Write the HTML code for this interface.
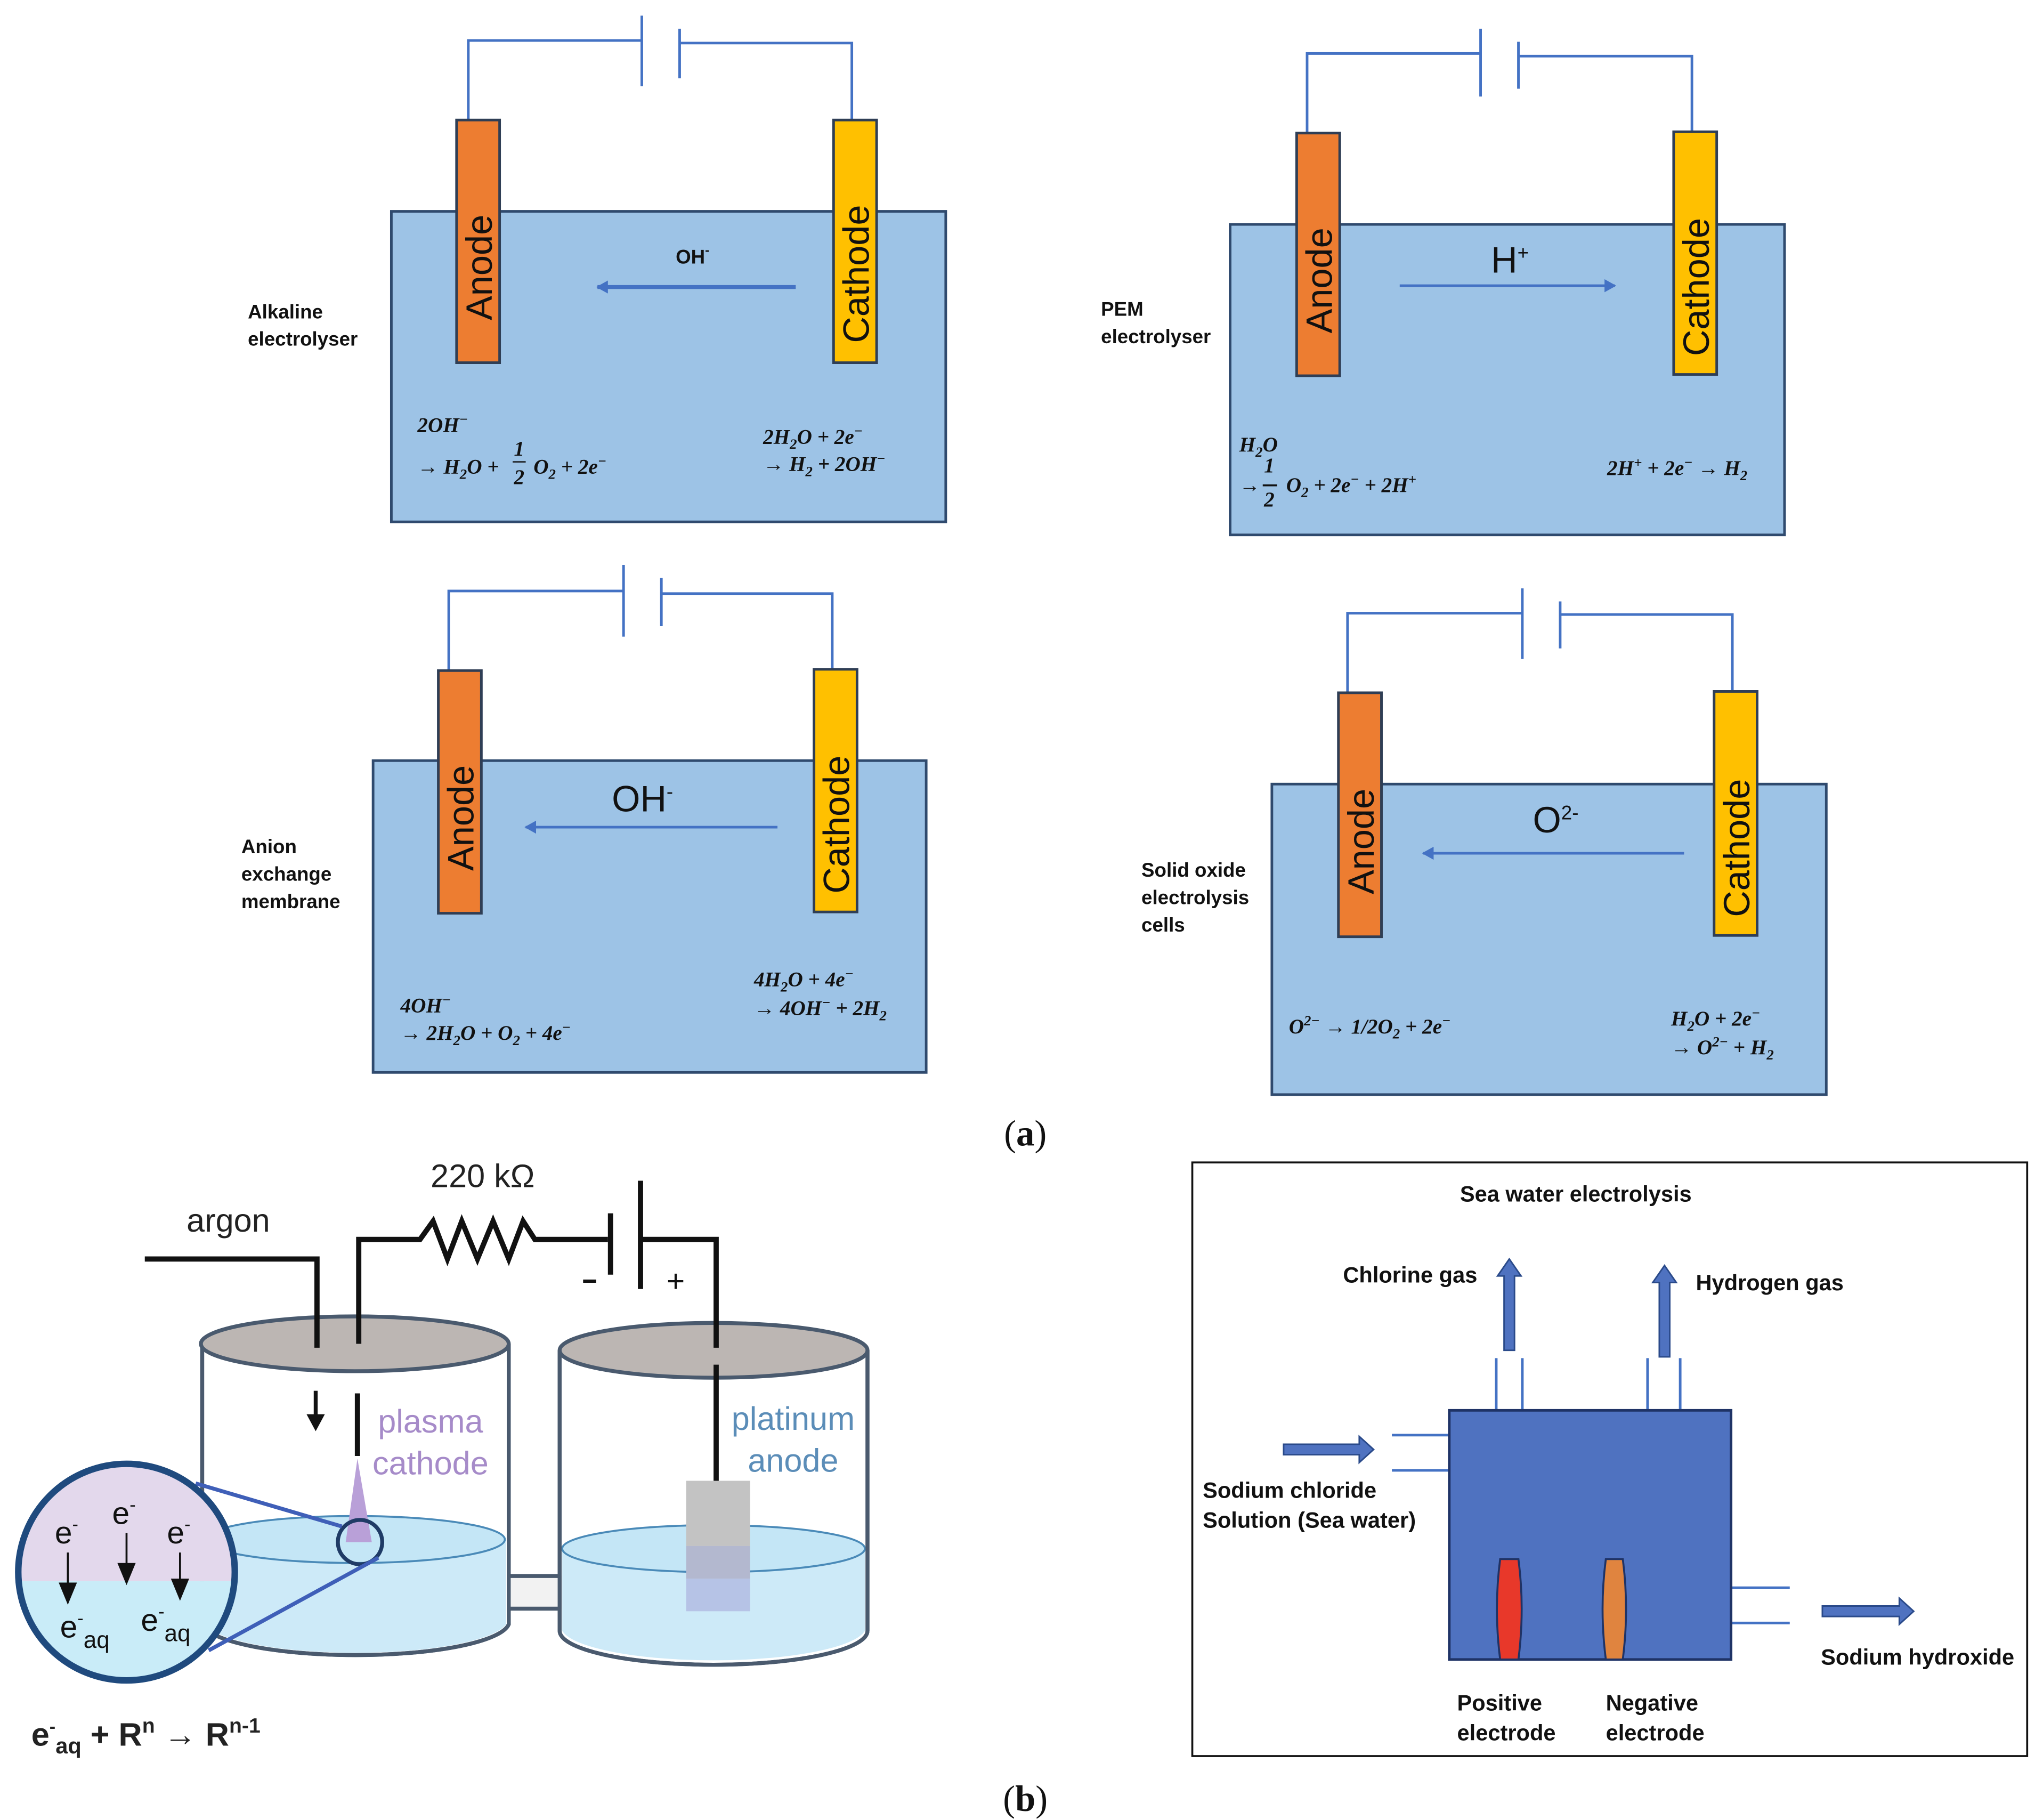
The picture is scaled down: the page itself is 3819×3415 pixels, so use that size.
<!DOCTYPE html>
<html><head><meta charset="utf-8"><style>
html,body{margin:0;padding:0;background:#fff}
svg{display:block}
.lab{font-family:"Liberation Sans",sans-serif;font-weight:bold;font-size:15px;fill:#111}
.el{font-family:"Liberation Sans",sans-serif;font-size:28px;fill:#111}
.eq{font-family:"Liberation Serif",serif;font-style:italic;font-weight:bold;font-size:16px;fill:#111}
.w{stroke:#4472C4;stroke-width:2;fill:none}
.tank{fill:#9DC3E6;stroke:#2F4A6E;stroke-width:2}
.an{fill:#ED7D31;stroke:#2F3E55;stroke-width:2}
.ca{fill:#FFC000;stroke:#2F3E55;stroke-width:2}
.sw{font-family:"Liberation Sans",sans-serif;font-weight:bold;font-size:17px;fill:#111}
</style></head><body>
<svg width="3819" height="3415" viewBox="0 0 1560 1395" preserveAspectRatio="none" xmlns="http://www.w3.org/2000/svg">
<defs>
<marker id="ah" markerWidth="10" markerHeight="10" refX="8" refY="5" orient="auto" markerUnits="userSpaceOnUse"><path d="M0,0 L9,5 L0,10 Z" fill="#4472C4"/></marker>
</defs>

<!-- Panel 1 Alkaline -->
<rect class="tank" x="300" y="162" width="425" height="238"/>
<path class="w" d="M359,92 V31 H492 M492,12 V66 M521,22 V60 M521,33 H653 V92"/>
<rect class="an" x="350" y="92" width="33" height="186"/>
<rect class="ca" x="639" y="92" width="33" height="186"/>
<text class="el" transform="translate(377,205) rotate(-90)" text-anchor="middle">Anode</text>
<text class="el" transform="translate(666,210) rotate(-90)" text-anchor="middle">Cathode</text>
<line x1="610" y1="220" x2="458" y2="220" stroke="#4472C4" stroke-width="3" marker-end="url(#ah)"/>
<text class="lab" x="518" y="202" font-size="17">OH<tspan dy="-7" font-size="10">-</tspan></text>
<text class="lab" x="190" y="244">Alkaline</text>
<text class="lab" x="190" y="265">electrolyser</text>
<text class="eq" x="320" y="331" font-weight="normal">2OH<tspan dy="-6" font-size="11">−</tspan></text>
<text class="eq" x="320" y="363" font-weight="normal">→ H<tspan dy="4" font-size="11">2</tspan><tspan dy="-4">O + </tspan></text>
<text class="eq" x="394" y="349" font-weight="normal" font-size="14">1</text>
<line x1="393" y1="354" x2="403" y2="354" stroke="#111" stroke-width="1"/>
<text class="eq" x="394" y="371" font-weight="normal" font-size="14">2</text>
<text class="eq" x="409" y="363" font-weight="normal">O<tspan dy="4" font-size="11">2</tspan><tspan dy="-4"> + 2e</tspan><tspan dy="-6" font-size="11">−</tspan></text>
<text class="eq" x="585" y="340">2H<tspan dy="4" font-size="11">2</tspan><tspan dy="-4">O + 2e</tspan><tspan dy="-6" font-size="11">−</tspan></text>
<text class="eq" x="585" y="361">→ H<tspan dy="4" font-size="11">2</tspan><tspan dy="-4"> + 2OH</tspan><tspan dy="-6" font-size="11">−</tspan></text>

<!-- Panel 2 PEM -->
<rect class="tank" x="943" y="172" width="425" height="238"/>
<path class="w" d="M1002,102 V41 H1135 M1135,22 V74 M1164,32 V68 M1164,43 H1297 V101"/>
<rect class="an" x="994" y="102" width="33" height="186"/>
<rect class="ca" x="1283" y="101" width="33" height="186"/>
<text class="el" transform="translate(1021,215) rotate(-90)" text-anchor="middle">Anode</text>
<text class="el" transform="translate(1310,220) rotate(-90)" text-anchor="middle">Cathode</text>
<line x1="1073" y1="219" x2="1238" y2="219" stroke="#4472C4" stroke-width="2" marker-end="url(#ah)"/>
<text class="el" x="1143" y="209" font-size="25">H<tspan dy="-10" font-size="15">+</tspan></text>
<text class="lab" x="844" y="242">PEM</text>
<text class="lab" x="844" y="263">electrolyser</text>
<text class="eq" x="950" y="346">H<tspan dy="4" font-size="11">2</tspan><tspan dy="-4">O</tspan></text>
<text class="eq" x="950" y="377">→</text>
<text class="eq" x="969" y="362" font-size="14">1</text>
<line x1="968" y1="372" x2="979" y2="372" stroke="#111" stroke-width="1.5"/>
<text class="eq" x="969" y="388" font-size="14">2</text>
<text class="eq" x="986" y="377">O<tspan dy="4" font-size="11">2</tspan><tspan dy="-4"> + 2e</tspan><tspan dy="-6" font-size="11">−</tspan><tspan dy="6"> + 2H</tspan><tspan dy="-6" font-size="11">+</tspan></text>
<text class="eq" x="1232" y="364">2H<tspan dy="-6" font-size="11">+</tspan><tspan dy="6"> + 2e</tspan><tspan dy="-6" font-size="11">−</tspan><tspan dy="6"> → H</tspan><tspan dy="4" font-size="11">2</tspan></text>

<!-- Panel 3 AEM -->
<rect class="tank" x="286" y="583" width="424" height="239"/>
<path class="w" d="M344,514 V453 H478 M478,433 V488 M507,443 V480 M507,455 H638 V513"/>
<rect class="an" x="336" y="514" width="33" height="186"/>
<rect class="ca" x="624" y="513" width="33" height="186"/>
<text class="el" transform="translate(363,627) rotate(-90)" text-anchor="middle">Anode</text>
<text class="el" transform="translate(651,632) rotate(-90)" text-anchor="middle">Cathode</text>
<line x1="596" y1="634" x2="403" y2="634" stroke="#4472C4" stroke-width="2" marker-end="url(#ah)"/>
<text class="el" x="469" y="622" font-size="25">OH<tspan dy="-10" font-size="15">-</tspan></text>
<text class="lab" x="185" y="654">Anion</text>
<text class="lab" x="185" y="675">exchange</text>
<text class="lab" x="185" y="696">membrane</text>
<text class="eq" x="307" y="776">4OH<tspan dy="-6" font-size="11">−</tspan></text>
<text class="eq" x="307" y="797">→ 2H<tspan dy="4" font-size="11">2</tspan><tspan dy="-4">O + O</tspan><tspan dy="4" font-size="11">2</tspan><tspan dy="-4"> + 4e</tspan><tspan dy="-6" font-size="11">−</tspan></text>
<text class="eq" x="578" y="756">4H<tspan dy="4" font-size="11">2</tspan><tspan dy="-4">O + 4e</tspan><tspan dy="-6" font-size="11">−</tspan></text>
<text class="eq" x="578" y="778">→ 4OH<tspan dy="-6" font-size="11">−</tspan><tspan dy="6"> + 2H</tspan><tspan dy="4" font-size="11">2</tspan></text>

<!-- Panel 4 SOEC -->
<rect class="tank" x="975" y="601" width="425" height="238"/>
<path class="w" d="M1033,531 V470 H1167 M1167,451 V505 M1196,461 V497 M1196,471 H1328 V530"/>
<rect class="an" x="1026" y="531" width="33" height="187"/>
<rect class="ca" x="1314" y="530" width="33" height="187"/>
<text class="el" transform="translate(1053,645) rotate(-90)" text-anchor="middle">Anode</text>
<text class="el" transform="translate(1341,650) rotate(-90)" text-anchor="middle">Cathode</text>
<line x1="1291" y1="654" x2="1091" y2="654" stroke="#4472C4" stroke-width="2" marker-end="url(#ah)"/>
<text class="el" x="1175" y="638" font-size="25">O<tspan dy="-10" font-size="15">2-</tspan></text>
<text class="lab" x="875" y="672">Solid oxide</text>
<text class="lab" x="875" y="693">electrolysis</text>
<text class="lab" x="875" y="714">cells</text>
<text class="eq" x="988" y="792">O<tspan dy="-6" font-size="11">2−</tspan><tspan dy="6"> → 1/2O</tspan><tspan dy="4" font-size="11">2</tspan><tspan dy="-4"> + 2e</tspan><tspan dy="-6" font-size="11">−</tspan></text>
<text class="eq" x="1281" y="786">H<tspan dy="4" font-size="11">2</tspan><tspan dy="-4">O + 2e</tspan><tspan dy="-6" font-size="11">−</tspan></text>
<text class="eq" x="1281" y="808">→ O<tspan dy="-6" font-size="11">2−</tspan><tspan dy="6"> + H</tspan><tspan dy="4" font-size="11">2</tspan></text>

<text x="786" y="878" text-anchor="middle" font-family="Liberation Serif,serif" font-size="28" fill="#111">(<tspan font-weight="bold">a</tspan>)</text>
<text x="786" y="1388" text-anchor="middle" font-family="Liberation Serif,serif" font-size="28" fill="#111">(<tspan font-weight="bold">b</tspan>)</text>

<!-- Panel b-left -->
<g stroke-linejoin="round">
<!-- left cylinder -->
<path d="M155,1030 V1245 A118,26 0 0 0 390,1245 V1030" fill="#fff" stroke="#4a5a6e" stroke-width="3"/>
<path d="M157,1180 A115,18 0 0 1 388,1180 V1245 A117,26 0 0 1 157,1245 Z" fill="#cdeaf8"/>
<ellipse cx="272" cy="1180" rx="115" ry="18" fill="#c4e6f6" stroke="#4a8ab8" stroke-width="1.5"/>
<path d="M155,1030 V1245 A118,26 0 0 0 390,1245 V1030" fill="none" stroke="#4a5a6e" stroke-width="3"/>
<ellipse cx="272" cy="1030" rx="118" ry="21" fill="#bcb6b3" stroke="#4a5a6e" stroke-width="3"/>
<!-- right cylinder -->
<path d="M429,1035 V1250 A118,26 0 0 0 665,1250 V1035" fill="#fff" stroke="#4a5a6e" stroke-width="3"/>
<path d="M431,1187 A115,18 0 0 1 663,1187 V1250 A117,26 0 0 1 431,1250 Z" fill="#cdeaf8"/>
<ellipse cx="547" cy="1187" rx="116" ry="18" fill="#c4e6f6" stroke="#4a8ab8" stroke-width="1.5"/>
<path d="M429,1035 V1250 A118,26 0 0 0 665,1250 V1035" fill="none" stroke="#4a5a6e" stroke-width="3"/>
<ellipse cx="547" cy="1035" rx="118" ry="21" fill="#bcb6b3" stroke="#4a5a6e" stroke-width="3"/>
<!-- connector -->
<rect x="390" y="1208" width="39" height="25" fill="#f2f2f2" stroke="#4a5a6e" stroke-width="3"/>
<!-- platinum anode -->
<rect x="526" y="1135" width="49" height="50" fill="#c3c3c3"/>
<rect x="526" y="1185" width="49" height="25" fill="#b3b8cf"/>
<rect x="526" y="1210" width="49" height="25" fill="#b6c3e6"/>
</g>
<path d="M111,965 H243 V1033" stroke="#111" stroke-width="4" fill="none"/>
<path d="M275,1030 V950 H322 L332,936 L343,965 L354,936 L366,965 L378,936 L390,965 L401,936 L410,950 H466" stroke="#111" stroke-width="4" fill="none"/>
<line x1="468" y1="930" x2="468" y2="977" stroke="#111" stroke-width="4"/>
<line x1="491" y1="905" x2="491" y2="988" stroke="#111" stroke-width="4"/>
<path d="M491,950 H549 V1033" stroke="#111" stroke-width="4" fill="none"/>
<line x1="549" y1="1046" x2="549" y2="1135" stroke="#111" stroke-width="4"/>
<line x1="447" y1="982" x2="457" y2="982" stroke="#111" stroke-width="2.5"/>
<text x="518" y="990" text-anchor="middle" font-family="Liberation Sans,sans-serif" font-size="24" fill="#111">+</text>
<text x="370" y="910" text-anchor="middle" font-family="Liberation Sans,sans-serif" font-size="25" fill="#222">220 kΩ</text>
<text x="175" y="944" text-anchor="middle" font-family="Liberation Sans,sans-serif" font-size="25" fill="#222">argon</text>
<line x1="242" y1="1066" x2="242" y2="1086" stroke="#111" stroke-width="3"/>
<path d="M235,1084 L249,1084 L242,1097 Z" fill="#111"/>
<line x1="274" y1="1068" x2="274" y2="1116" stroke="#111" stroke-width="4"/>
<path d="M274,1118 L265,1182 L285,1182 Z" fill="#b9a0d8"/>
<text x="330" y="1098" text-anchor="middle" font-family="Liberation Sans,sans-serif" font-size="25" fill="#a68bc9">plasma</text>
<text x="330" y="1130" text-anchor="middle" font-family="Liberation Sans,sans-serif" font-size="25" fill="#a68bc9">cathode</text>
<text x="608" y="1096" text-anchor="middle" font-family="Liberation Sans,sans-serif" font-size="25" fill="#5b8db8">platinum</text>
<text x="608" y="1128" text-anchor="middle" font-family="Liberation Sans,sans-serif" font-size="25" fill="#5b8db8">anode</text>
<circle cx="276" cy="1182" r="17" fill="none" stroke="#1f3b66" stroke-width="3"/>
<line x1="150" y1="1137" x2="262" y2="1170" stroke="#3f5fb8" stroke-width="3"/>
<line x1="160" y1="1265" x2="290" y2="1194" stroke="#3f5fb8" stroke-width="3"/>
<clipPath id="cc"><circle cx="97" cy="1205" r="83"/></clipPath>
<g clip-path="url(#cc)">
<rect x="10" y="1115" width="180" height="97" fill="#e3d8ec"/>
<rect x="10" y="1212" width="180" height="100" fill="#c9ecf8"/>
</g>
<circle cx="97" cy="1205" r="83" fill="none" stroke="#1f4a7e" stroke-width="5"/>
<g font-family="Liberation Sans,sans-serif" font-size="24" fill="#111">
<text x="42" y="1183">e<tspan dy="-10" font-size="14">-</tspan></text>
<text x="86" y="1168">e<tspan dy="-10" font-size="14">-</tspan></text>
<text x="128" y="1183">e<tspan dy="-10" font-size="14">-</tspan></text>
<text x="46" y="1255">e<tspan dy="-10" font-size="14">-</tspan><tspan dy="18" font-size="18">aq</tspan></text>
<text x="108" y="1250">e<tspan dy="-10" font-size="14">-</tspan><tspan dy="18" font-size="18">aq</tspan></text>
</g>
<g stroke="#111" stroke-width="1.5"><line x1="52" y1="1190" x2="52" y2="1215"/><line x1="97" y1="1175" x2="97" y2="1200"/><line x1="138" y1="1190" x2="138" y2="1212"/></g>
<g fill="#111"><path d="M45,1213 L59,1213 L52,1230 Z"/><path d="M90,1198 L104,1198 L97,1215 Z"/><path d="M131,1210 L145,1210 L138,1227 Z"/></g>
<text x="24" y="1338" font-family="Liberation Sans,sans-serif" font-weight="bold" font-size="25" fill="#222">e<tspan dy="-10" font-size="14">-</tspan><tspan dy="16" font-size="17">aq</tspan><tspan dy="-6"> + R</tspan><tspan dy="-10" font-size="16">n</tspan><tspan dy="10"> → R</tspan><tspan dy="-10" font-size="16">n-1</tspan></text>

<!-- Panel b-right -->
<rect x="914" y="891" width="640" height="455" fill="#fff" stroke="#111" stroke-width="1.5"/>
<text class="sw" x="1208" y="921" text-anchor="middle" font-size="18">Sea water electrolysis</text>
<g stroke="#4472C4" stroke-width="2">
<line x1="1147" y1="1041" x2="1147" y2="1081"/><line x1="1167" y1="1041" x2="1167" y2="1081"/>
<line x1="1263" y1="1041" x2="1263" y2="1081"/><line x1="1288" y1="1041" x2="1288" y2="1081"/>
<line x1="1067" y1="1100" x2="1111" y2="1100"/><line x1="1067" y1="1127" x2="1111" y2="1127"/>
<line x1="1327" y1="1217" x2="1372" y2="1217"/><line x1="1327" y1="1244" x2="1372" y2="1244"/>
</g>
<rect x="1111" y="1081" width="216" height="191" fill="#4F72C0" stroke="#1f3366" stroke-width="2"/>
<path d="M1150,1195 H1164 Q1169,1233 1164,1272 H1150 Q1145,1233 1150,1195 Z" fill="#E8382A" stroke="#1f3366" stroke-width="1.5"/>
<path d="M1231,1195 H1244 Q1249,1233 1244,1272 H1231 Q1226,1233 1231,1195 Z" fill="#E0843F" stroke="#1f3366" stroke-width="1.5"/>
<g fill="#4F72C0" stroke="#2a4a8a" stroke-width="1.2">
<path d="M984,1107 H1042 V1101 L1053,1111 L1042,1121 V1115 H984 Z"/>
<path d="M1397,1231 H1456 V1225 L1467,1235 L1456,1245 V1239 H1397 Z"/>
<path d="M1153,1035 V978 H1148 L1157,965 L1166,978 H1161 V1035 Z"/>
<path d="M1272,1040 V983 H1267 L1276,970 L1285,983 H1280 V1040 Z"/>
</g>
<text class="sw" x="1081" y="983" text-anchor="middle">Chlorine gas</text>
<text class="sw" x="1300" y="989">Hydrogen gas</text>
<text class="sw" x="922" y="1148">Sodium chloride</text>
<text class="sw" x="922" y="1171">Solution (Sea water)</text>
<text class="sw" x="1470" y="1276" text-anchor="middle">Sodium hydroxide</text>
<text class="sw" x="1117" y="1311">Positive</text>
<text class="sw" x="1117" y="1334">electrode</text>
<text class="sw" x="1231" y="1311">Negative</text>
<text class="sw" x="1231" y="1334">electrode</text>
</svg>
</body></html>
